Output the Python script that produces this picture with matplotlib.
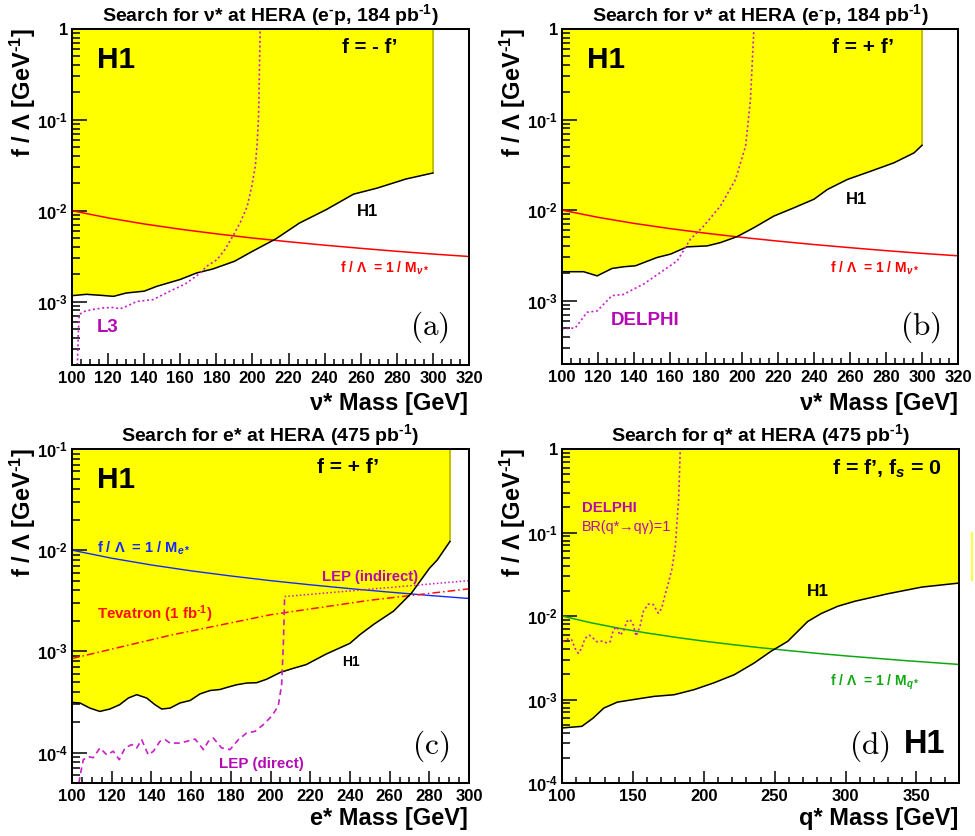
import numpy as np
import matplotlib
matplotlib.use("Agg")
import matplotlib.pyplot as plt
from matplotlib.ticker import MultipleLocator, LogLocator, NullFormatter, FuncFormatter
from matplotlib.lines import Line2D

plt.rcParams['font.family'] = ['Liberation Sans', 'DejaVu Sans']
plt.rcParams['font.weight'] = 'bold'
plt.rcParams['mathtext.fontset'] = 'custom'
plt.rcParams['mathtext.rm'] = 'Liberation Sans:bold'
plt.rcParams['mathtext.bf'] = 'Liberation Sans:bold'
plt.rcParams['mathtext.it'] = 'Liberation Sans:bold:italic'
plt.rcParams['mathtext.sf'] = 'Liberation Sans:bold'

HY = '\u2010'  # short hyphen used in superscripts

# ---------------- data ----------------
# (a) nu*, f = -f'
A_H1_X = [100, 108, 116, 123, 130, 140, 147, 160, 169, 178, 190, 200, 213, 226, 241, 256, 269, 285, 300]
A_H1_Y = [1.16e-3, 1.20e-3, 1.17e-3, 1.14e-3, 1.24e-3, 1.30e-3, 1.47e-3, 1.75e-3, 2.06e-3, 2.28e-3,
          2.77e-3, 3.57e-3, 4.9e-3, 7.3e-3, 1.03e-2, 1.52e-2, 1.77e-2, 2.23e-2, 2.6e-2]
A_L3_X = [103.0, 103.5, 104.0, 107, 112, 117.4, 123, 126.6, 131, 135.8, 145, 154.3, 160, 163.6, 171,
          174.7, 180.5, 185, 189.5, 193.5, 197, 199.5, 201.6, 202.6, 203.4, 203.9, 204.3]
A_L3_Y = [2.0e-4, 4.5e-4, 7.2e-4, 7.8e-4, 8.2e-4, 8.5e-4, 8.6e-4, 8.3e-4, 9.0e-4, 1.0e-3, 1.05e-3, 1.3e-3,
          1.47e-3, 1.6e-3, 2.05e-3, 2.45e-3, 2.9e-3, 3.8e-3, 5.4e-3, 7.6e-3, 1.1e-2, 1.8e-2, 3.1e-2,
          5.5e-2, 1.09e-1, 3.9e-1, 1.0]

# (b) nu*, f = +f'
B_H1_X = [100, 112, 119.5, 127.8, 134.3, 140.8, 152.8, 160.3, 169.5, 180.7, 188, 197.3, 206.6, 217.7,
          228.8, 240, 247.4, 258.5, 271.5, 284.4, 295.6, 300]
B_H1_Y = [2.09e-3, 2.09e-3, 1.88e-3, 2.27e-3, 2.37e-3, 2.43e-3, 3.0e-3, 3.27e-3, 3.93e-3, 4.03e-3,
          4.38e-3, 5.1e-3, 6.4e-3, 8.6e-3, 1.06e-2, 1.32e-2, 1.69e-2, 2.18e-2, 2.69e-2, 3.33e-2,
          4.29e-2, 5.2e-2]
B_DEL_X = [100, 107.4, 113.9, 119.5, 127.8, 134, 145.4, 154.7, 164, 171.4, 178.8, 188, 196.4, 202,
           204.7, 206.6]
B_DEL_Y = [4.9e-4, 5.0e-4, 7.45e-4, 7.7e-4, 1.14e-3, 1.17e-3, 1.53e-3, 2.05e-3, 2.75e-3, 4.8e-3,
           6.7e-3, 1.11e-2, 2.18e-2, 5.1e-2, 0.166, 1.0]

# 1 / M reference curve for nu*
NU_M = [100, 120, 140, 160, 180, 200, 220, 240, 260, 280, 300, 320]
NU_INV = [1.0e-2, 8.33e-3, 7.14e-3, 6.25e-3, 5.56e-3, 5.0e-3, 4.55e-3, 4.17e-3, 3.85e-3, 3.57e-3,
          3.33e-3, 3.13e-3]

# (c) e*
C_H1_X = [100, 104, 109, 114, 119, 124, 128.4, 132.6, 137.6, 141.8, 145.2, 149.4, 154.4, 159.5, 164.5,
          169.5, 174.6, 178, 183, 188, 193, 198, 205, 211.5, 218, 228, 240, 245, 252, 262, 271, 280,
          284, 290.4]
C_H1_Y = [3.13e-4, 3.09e-4, 2.75e-4, 2.55e-4, 2.69e-4, 2.97e-4, 3.46e-4, 3.73e-4, 3.46e-4, 2.97e-4,
          2.69e-4, 2.75e-4, 3.09e-4, 3.27e-4, 3.8e-4, 4.1e-4, 4.2e-4, 4.4e-4, 4.68e-4, 4.86e-4, 4.9e-4,
          5.3e-4, 6.2e-4, 6.8e-4, 7.4e-4, 9.4e-4, 1.2e-3, 1.46e-3, 1.85e-3, 2.5e-3, 3.76e-3, 6.6e-3,
          8.0e-3, 1.22e-2]
C_LEPD_X = [103.5, 104, 105.7, 108.2, 110.7, 114.1, 117.5, 120.8, 123.8, 126.7, 130.1, 132.6, 135.1,
            138.4, 141, 144.3, 146.9, 149.4, 154.4, 157.8, 162, 166.2, 168.7, 171.2, 175.4, 179.6,
            183.8, 188, 192.2, 196.4, 200.6, 203.9, 205.6, 206.5, 207.1]
C_LEPD_Y = [5.0e-5, 5.8e-5, 8.5e-5, 9.1e-5, 8.9e-5, 1.11e-4, 9.5e-5, 1.03e-4, 8.5e-5, 1.11e-4, 1.2e-4,
            1.11e-4, 1.34e-4, 9.5e-5, 1.03e-4, 1.29e-4, 1.34e-4, 1.24e-4, 1.24e-4, 1.29e-4, 1.36e-4,
            1.07e-4, 1.29e-4, 1.39e-4, 1.11e-4, 1.07e-4, 1.34e-4, 1.56e-4, 1.62e-4, 1.89e-4, 2.29e-4,
            2.88e-4, 4.68e-4, 1.2e-3, 3.48e-3]
C_LEPI_X = [207.1, 300]
C_LEPI_Y = [3.48e-3, 5.0e-3]
C_TEV_X = [100, 150, 200, 250, 300]
C_TEV_Y = [8.5e-4, 1.45e-3, 2.3e-3, 3.2e-3, 4.15e-3]
E_M = [100, 120, 140, 160, 180, 200, 220, 240, 260, 280, 300]
E_INV = [1.0e-2, 8.33e-3, 7.14e-3, 6.25e-3, 5.56e-3, 5.0e-3, 4.55e-3, 4.17e-3, 3.85e-3, 3.57e-3, 3.33e-3]

# (d) q*
D_H1_X = [100, 114, 122, 129.5, 139, 150.7, 165, 179, 193, 207, 221.5, 235.6, 247.4, 259.2, 266.3,
          273.3, 282.8, 294.6, 306.4, 330, 353.8, 380]
D_H1_Y = [4.56e-4, 4.77e-4, 6.0e-4, 7.9e-4, 9.3e-4, 1.0e-3, 1.09e-3, 1.14e-3, 1.31e-3, 1.58e-3,
          1.98e-3, 2.74e-3, 3.78e-3, 4.97e-3, 6.55e-3, 8.6e-3, 1.07e-2, 1.31e-2, 1.5e-2, 1.85e-2,
          2.22e-2, 2.48e-2]
D_DEL_X = [100.5, 103.8, 106.8, 109.2, 111.5, 113.9, 116.2, 119.3, 122.1, 124.5, 128, 131.5, 134,
           136.2, 138.6, 140.9, 143.3, 145.6, 148, 150.3, 152.2, 155, 157.3, 160.9, 164.4, 167.9,
           170.3, 172.6, 175, 177.6, 180, 182.3, 183.4]
D_DEL_Y = [4.92e-3, 5.3e-3, 5.2e-3, 4.1e-3, 3.57e-3, 4.1e-3, 5.4e-3, 5.9e-3, 5.4e-3, 4.92e-3, 5.0e-3,
           4.78e-3, 4.92e-3, 6.8e-3, 7.45e-3, 5.9e-3, 6.5e-3, 8.55e-3, 9.1e-3, 7.8e-3, 5.76e-3,
           7.45e-3, 1.13e-2, 1.39e-2, 1.37e-2, 1.08e-2, 1.23e-2, 1.78e-2, 2.47e-2, 3.7e-2, 7.1e-2,
           0.257, 1.0]
Q_M = [100, 120, 140, 160, 180, 200, 220, 240, 260, 280, 300, 320, 340, 360, 380]
Q_INV = [1.0e-2, 8.33e-3, 7.14e-3, 6.25e-3, 5.56e-3, 5.0e-3, 4.55e-3, 4.17e-3, 3.85e-3, 3.57e-3,
         3.33e-3, 3.13e-3, 2.94e-3, 2.78e-3, 2.63e-3]

# ---------------- figure ----------------
W, H = 975, 836
fig = plt.figure(figsize=(W / 100, H / 100), dpi=100, facecolor='white')

YELLOW = '#ffff00'
OLIVE = '#bcbc00'
MAG = '#c81ec8'
MAGT = '#b40ab4'


def px_axes(l, t, r, b):
    return fig.add_axes([l / W, 1 - b / H, (r - l) / W, (b - t) / H])


def ylab(v, p):
    if abs(v - 1) < 1e-9:
        return '1'
    e = int(round(np.log10(v)))
    if e < 0:
        return r'$10^{%s%d}$' % (HY, -e)
    return r'$10^{%d}$' % e


def style(ax, xlim, ylim, xmaj, xmin):
    ax.set_yscale('log')
    ax.set_xlim(*xlim)
    ax.set_ylim(*ylim)
    ax.xaxis.set_major_locator(MultipleLocator(xmaj))
    ax.xaxis.set_minor_locator(MultipleLocator(xmin))
    ax.yaxis.set_major_locator(LogLocator(10, numticks=12))
    ax.yaxis.set_minor_locator(LogLocator(10, subs=np.arange(2, 10), numticks=12))
    ax.yaxis.set_major_formatter(FuncFormatter(ylab))
    ax.yaxis.set_minor_formatter(NullFormatter())
    ax.tick_params(axis='x', which='major', direction='in', length=8.5, width=1.1,
                   labelsize=12, pad=4, top=False)
    ax.tick_params(axis='x', which='minor', direction='in', length=4.3, width=1.1, top=False)
    ax.tick_params(axis='y', which='major', direction='in', length=10.5, width=1.1,
                   labelsize=12, pad=3, right=False)
    ax.tick_params(axis='y', which='minor', direction='in', length=5.8, width=1.1, right=False)
    for s in ax.spines.values():
        s.set_linewidth(1.45)
        s.set_zorder(10)
    ax.set_facecolor('white')


def T(x, y, s, ha='left', va='baseline', **kw):
    return fig.text(x / W, 1 - y / H, s, ha=ha, va=va, **kw)


def panel_label(x, y, s):
    T(x, y, r'$\mathrm{(%s)}$' % s, fontsize=22.5, math_fontfamily='cm', fontweight='normal')


# ---- (a) ----
axa = px_axes(72, 29, 469, 365)
style(axa, (100, 320), (2e-4, 1.0), 20, 5)
axa.fill_between(A_H1_X, A_H1_Y, 1.0, color=YELLOW, lw=0, zorder=1)
axa.plot([A_H1_X[-1], A_H1_X[-1]], [A_H1_Y[-1], 1.0], color=OLIVE, lw=1.3, zorder=2)
axa.plot(A_H1_X, A_H1_Y, color='black', lw=1.1, zorder=4)
axa.plot(NU_M, NU_INV, color='#ff0000', lw=1.1, zorder=3)
axa.plot(A_L3_X, A_L3_Y, color=MAG, lw=1.2, ls=(0, (1.2, 1.6)), zorder=5)

# ---- (b) ----
axb = px_axes(562, 29, 958, 364)
style(axb, (100, 320), (2e-4, 1.0), 20, 5)
axb.fill_between(B_H1_X, B_H1_Y, 1.0, color=YELLOW, lw=0, zorder=1)
axb.plot([B_H1_X[-1], B_H1_X[-1]], [B_H1_Y[-1], 1.0], color=OLIVE, lw=1.3, zorder=2)
axb.plot(B_H1_X, B_H1_Y, color='black', lw=1.1, zorder=4)
axb.plot(NU_M, NU_INV, color='#ff0000', lw=1.1, zorder=3)
axb.plot(B_DEL_X, B_DEL_Y, color=MAG, lw=1.2, ls=(0, (1.2, 1.6)), zorder=5)

# ---- (c) ----
axc = px_axes(72, 449, 469, 783)
style(axc, (100, 300), (5e-5, 0.1), 20, 5)
axc.fill_between(C_H1_X, C_H1_Y, 0.1, color=YELLOW, lw=0, zorder=1)
axc.plot([C_H1_X[-1], C_H1_X[-1]], [C_H1_Y[-1], 0.1], color=OLIVE, lw=1.3, zorder=2)
axc.plot(C_H1_X, C_H1_Y, color='black', lw=1.1, zorder=4)
axc.plot(E_M, E_INV, color='#1428ff', lw=1.0, zorder=3)
axc.plot(C_TEV_X, C_TEV_Y, color='#ff1010', lw=1.1, ls=(0, (5, 2, 1, 2)), zorder=3)
axc.plot(C_LEPD_X, C_LEPD_Y, color=MAG, lw=1.2, ls=(0, (3.5, 2.5)), zorder=5)
axc.plot(C_LEPI_X, C_LEPI_Y, color=MAG, lw=1.1, ls=(0, (1, 1.5)), zorder=5)

# ---- (d) ----
axd = px_axes(562, 449, 959, 783)
style(axd, (100, 380), (1e-4, 1.0), 50, 10)
axd.fill_between(D_H1_X, D_H1_Y, 1.0, color=YELLOW, lw=0, zorder=1)
axd.plot(D_H1_X, D_H1_Y, color='black', lw=1.1, zorder=4)
axd.plot(Q_M, Q_INV, color='#10a810', lw=1.1, zorder=3)
axd.plot(D_DEL_X, D_DEL_Y, color=MAG, lw=1.2, ls=(0, (1.2, 1.6)), zorder=5)

# stray yellow mark at the right edge of the reference
fig.add_artist(Line2D([971.7 / W, 971.7 / W], [1 - 533 / H, 1 - 580 / H], color='#ffff30', lw=1.4))

# ---------------- texts ----------------
YL = 'f / Λ [GeV$^{%s1}$]' % HY
for xc, yt in [(23, 28), (513, 28), (23, 448), (513, 448)]:
    T(xc, yt, YL, ha='center', va='top', rotation=90, fontsize=17)

T(468, 410, 'ν* Mass [GeV]', ha='right', fontsize=17)
T(958, 410, 'ν* Mass [GeV]', ha='right', fontsize=17)
T(468, 825, 'e* Mass [GeV]', ha='right', fontsize=17)
T(958, 825, 'q* Mass [GeV]', ha='right', fontsize=17)

TA = 'Search for ν* at HERA (e$^{%s}$p, 184 pb$^{%s1}$)' % (HY, HY)
T(270, 21, TA, ha='center', fontsize=14)
T(760, 21, TA, ha='center', fontsize=14)
T(270, 441.5, 'Search for e* at HERA (475 pb$^{%s1}$)' % HY, ha='center', fontsize=14)
T(760, 441.5, 'Search for q* at HERA (475 pb$^{%s1}$)' % HY, ha='center', fontsize=14)

# (a)
T(97, 68, 'H1', fontsize=21.5)
T(342, 53, 'f = - f’', fontsize=14.7)
T(357, 216, 'H1', fontsize=12)
T(340, 273, 'f / Λ  = 1 / M$_{ν*}$', fontsize=10, color='#ff0000')
T(97, 332, 'L3', fontsize=13.4, color=MAGT)
panel_label(410, 335, 'a')

# (b)
T(587, 68, 'H1', fontsize=21.5)
T(832, 53, 'f = + f’', fontsize=15)
T(846, 204, 'H1', fontsize=12)
T(830, 273, 'f / Λ  = 1 / M$_{ν*}$', fontsize=10, color='#ff0000')
T(611, 325, 'DELPHI', fontsize=13.5, color=MAGT)
panel_label(900, 335, 'b')

# (c)
T(97, 487.7, 'H1', fontsize=21.5)
T(317, 473, 'f = + f’', fontsize=15)
T(97, 552.7, 'f / Λ  = 1 / M$_{e*}$', fontsize=10.5, color='#1428ff')
T(322, 580.7, 'LEP (indirect)', fontsize=10.7, color=MAGT)
T(97, 619.3, 'Tevatron (1 fb$^{%s1}$)' % HY, fontsize=10.8, color='#ff1010')
T(342, 665.7, 'H1', fontsize=10)
T(219, 767.7, 'LEP (direct)', fontsize=10.9, color=MAGT)
panel_label(412, 753.3, 'c')

# (d)
T(832, 475, 'f = f’, f$_{s}$ = 0', fontsize=15.4)
T(582, 511.7, 'DELPHI', fontsize=10.8, color=MAGT)
T(582, 530.7, 'BR(q*→qγ)=1', fontsize=10.4, color=MAGT, fontweight='normal')
T(807, 596, 'H1', fontsize=12.4)
T(830, 685.7, 'f / Λ  = 1 / M$_{q*}$', fontsize=10, color='#10a810')
panel_label(849, 753.3, 'd')
T(904, 753.3, 'H1', fontsize=23.5)

fig.savefig('out.png', dpi=100, facecolor='white')
